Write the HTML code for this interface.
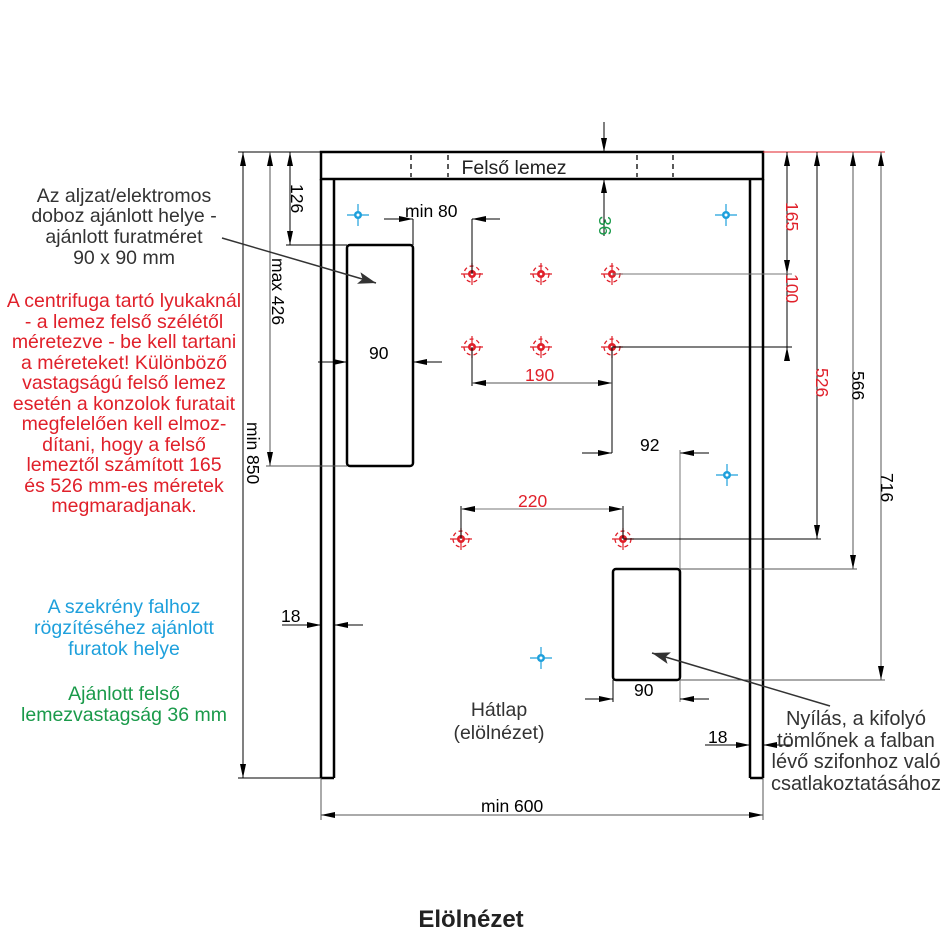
<!DOCTYPE html>
<html><head><meta charset="utf-8"><style>
html,body{margin:0;padding:0;background:#fff;}
svg{display:block;font-family:"Liberation Sans",sans-serif;}
</style></head><body>
<svg width="942" height="942" viewBox="0 0 942 942" xmlns="http://www.w3.org/2000/svg">
<defs>
<marker id="a" viewBox="0 0 14 6" refX="14" refY="3" markerWidth="14" markerHeight="6" markerUnits="userSpaceOnUse" orient="auto"><path d="M0,0L14,3L0,6z" fill="#000"/></marker>
<marker id="b" viewBox="0 0 14 6" refX="0" refY="3" markerWidth="14" markerHeight="6" markerUnits="userSpaceOnUse" orient="auto"><path d="M14,0L0,3L14,6z" fill="#000"/></marker>
<marker id="g" viewBox="0 0 18 12" refX="18" refY="6" markerWidth="18" markerHeight="12" markerUnits="userSpaceOnUse" orient="auto"><path d="M0,0L18,6L0,12L4,6z" fill="#333"/></marker>
<g id="rh"><circle r="8" fill="none" stroke="#e0202a" stroke-width="1.3" stroke-dasharray="4 3"/><line x1="-11" y1="0" x2="11" y2="0" stroke="#e0202a" stroke-width="1.2"/><line x1="0" y1="-11" x2="0" y2="11" stroke="#e0202a" stroke-width="1.2"/><circle r="4" fill="#e0202a"/><circle r="1.3" fill="#fff"/></g>
<g id="bh"><line x1="-11" y1="0" x2="11" y2="0" stroke="#1ea0dc" stroke-width="1.2"/><line x1="0" y1="-11" x2="0" y2="11" stroke="#1ea0dc" stroke-width="1.2"/><circle r="4" fill="#1ea0dc"/><circle r="1.5" fill="#fff"/></g>
</defs>

<g stroke="#000" stroke-width="2.5" fill="none">
<rect x="321" y="152" width="442" height="27"/>
<line x1="321" y1="179" x2="321" y2="778"/><line x1="334" y1="179" x2="334" y2="778"/>
<line x1="763" y1="179" x2="763" y2="778"/><line x1="750" y1="179" x2="750" y2="778"/>
<line x1="321" y1="778" x2="334" y2="778"/><line x1="750" y1="778" x2="763" y2="778"/>
<rect x="347" y="245" width="66" height="221" rx="3"/>
<rect x="613" y="569" width="67" height="111" rx="3"/>
</g>
<g stroke="#000" stroke-width="1.3" stroke-dasharray="5 4">
<line x1="411" y1="155" x2="411" y2="177"/><line x1="448" y1="155" x2="448" y2="177"/>
<line x1="637" y1="155" x2="637" y2="177"/><line x1="673" y1="155" x2="673" y2="177"/>
</g>
<text x="514" y="174" font-size="19.5" text-anchor="middle" fill="#222">Felső lemez</text>

<use href="#rh" x="472" y="274"/><use href="#rh" x="541" y="274"/><use href="#rh" x="612" y="274"/>
<use href="#rh" x="472" y="347"/><use href="#rh" x="541" y="347"/><use href="#rh" x="612" y="347"/>
<use href="#rh" x="461" y="539"/><use href="#rh" x="623" y="539"/>
<use href="#bh" x="358" y="215"/><use href="#bh" x="726" y="215"/><use href="#bh" x="727" y="475"/><use href="#bh" x="541" y="658"/>

<g stroke="#000" stroke-width="1" fill="none">
<line x1="238" y1="152" x2="321" y2="152"/>
<line x1="243" y1="152" x2="243" y2="778" marker-start="url(#b)" marker-end="url(#a)"/>
<line x1="238" y1="778" x2="321" y2="778"/>
<line x1="270" y1="152" x2="270" y2="466" stroke="#555" marker-start="url(#b)" marker-end="url(#a)"/>
<line x1="266" y1="466" x2="347" y2="466" stroke="#555"/>
<line x1="290" y1="152" x2="290" y2="245" marker-start="url(#b)" marker-end="url(#a)"/>
<line x1="286" y1="245" x2="347" y2="245"/>
<line x1="604" y1="122" x2="604" y2="152" marker-end="url(#a)"/>
<line x1="604" y1="236" x2="604" y2="179" marker-end="url(#a)"/>
<line x1="384" y1="219" x2="413" y2="219" marker-end="url(#a)"/>
<line x1="413" y1="219" x2="413" y2="245"/>
<line x1="500" y1="219" x2="472" y2="219" marker-end="url(#a)"/>
<line x1="472" y1="219" x2="472" y2="274"/>
<line x1="318" y1="362" x2="347" y2="362" marker-end="url(#a)"/>
<line x1="442" y1="362" x2="413" y2="362" marker-end="url(#a)"/>
<line x1="472" y1="347" x2="472" y2="386"/>
<line x1="612" y1="347" x2="612" y2="453"/>
<line x1="472" y1="383" x2="612" y2="383" marker-start="url(#b)" marker-end="url(#a)" stroke="#555"/>
<line x1="582" y1="453" x2="612" y2="453" marker-end="url(#a)"/>
<line x1="709" y1="453" x2="680" y2="453" marker-end="url(#a)"/>
<line x1="680" y1="450" x2="680" y2="569" stroke="#777"/>
<line x1="461" y1="506" x2="461" y2="539"/><line x1="623" y1="506" x2="623" y2="539"/>
<line x1="461" y1="509" x2="623" y2="509" stroke="#777" marker-start="url(#b)" marker-end="url(#a)"/>
<line x1="763" y1="152" x2="885" y2="152" stroke="#e0202a"/>
<line x1="787" y1="152" x2="787" y2="274" marker-start="url(#b)" marker-end="url(#a)"/>
<line x1="612" y1="274" x2="792" y2="274" stroke="#777"/>
<line x1="612" y1="347" x2="792" y2="347"/>
<line x1="787" y1="274" x2="787" y2="360"/>
<line x1="787" y1="360" x2="787" y2="347" marker-end="url(#a)"/>
<line x1="817" y1="152" x2="817" y2="539" marker-start="url(#b)" marker-end="url(#a)"/>
<line x1="623" y1="539" x2="821" y2="539"/>
<line x1="853" y1="152" x2="853" y2="569" stroke="#555" marker-start="url(#b)" marker-end="url(#a)"/>
<line x1="680" y1="569" x2="857" y2="569" stroke="#555"/>
<line x1="881" y1="152" x2="881" y2="680" stroke="#555" marker-start="url(#b)" marker-end="url(#a)"/>
<line x1="680" y1="680" x2="885" y2="680" stroke="#555"/>
<line x1="613" y1="680" x2="613" y2="702"/><line x1="680" y1="680" x2="680" y2="702" stroke="#777"/>
<line x1="585" y1="699" x2="613" y2="699" marker-end="url(#a)"/>
<line x1="709" y1="699" x2="680" y2="699" marker-end="url(#a)"/>
<line x1="282" y1="625" x2="321" y2="625" marker-end="url(#a)"/>
<line x1="363" y1="625" x2="334" y2="625" marker-end="url(#a)"/>
<line x1="705" y1="745" x2="750" y2="745" marker-end="url(#a)"/>
<line x1="792" y1="745" x2="763" y2="745" marker-end="url(#a)"/>
<line x1="321" y1="778" x2="321" y2="820" stroke="#555"/>
<line x1="763" y1="778" x2="763" y2="820" stroke="#555"/>
<line x1="321" y1="815" x2="763" y2="815" stroke="#555" marker-start="url(#b)" marker-end="url(#a)"/>
</g>

<line x1="222" y1="238" x2="376" y2="283" stroke="#333" stroke-width="1.5" marker-end="url(#g)"/>
<line x1="830" y1="706" x2="652" y2="653" stroke="#333" stroke-width="1.5" marker-end="url(#g)"/>

<g font-size="17.5" fill="#000">
<text transform="translate(247,422) rotate(90)">min 850</text>
<text transform="translate(272,258) rotate(90)">max 426</text>
<text transform="translate(291,184) rotate(90)">126</text>
<text transform="translate(599,216) rotate(90)" fill="#1a9a4a">36</text>
<text transform="translate(786,202) rotate(90)" fill="#e0202a">165</text>
<text transform="translate(786,274) rotate(90)" fill="#e0202a">100</text>
<text transform="translate(816,368) rotate(90)" fill="#e0202a">526</text>
<text transform="translate(852,371) rotate(90)">566</text>
<text transform="translate(881,473) rotate(90)">716</text>
<text x="405" y="217">min 80</text>
<text x="369" y="359">90</text>
<text x="525" y="381" fill="#e0202a">190</text>
<text x="640" y="451">92</text>
<text x="518" y="507" fill="#e0202a">220</text>
<text x="634" y="696">90</text>
<text x="281" y="622">18</text>
<text x="708" y="743">18</text>
<text x="481" y="812">min 600</text>
</g>

<g font-size="19.5" text-anchor="middle" fill="#333">
<text x="124" y="202">Az aljzat/elektromos</text>
<text x="124" y="222">doboz ajánlott helye -</text>
<text x="124" y="243">ajánlott furatméret</text>
<text x="124" y="264">90 x 90 mm</text>
</g>
<g font-size="19.5" text-anchor="middle" fill="#e0202a">
<text x="124" y="307">A centrifuga tartó lyukaknál</text>
<text x="124" y="328">- a lemez felső szélétől</text>
<text x="124" y="348">méretezve - be kell tartani</text>
<text x="124" y="369">a méreteket! Különböző</text>
<text x="124" y="389">vastagságú felső lemez</text>
<text x="124" y="410">esetén a konzolok furatait</text>
<text x="124" y="430">megfelelően kell elmoz-</text>
<text x="124" y="451">dítani,  hogy a felső</text>
<text x="124" y="471">lemeztől számított 165</text>
<text x="124" y="492">és 526 mm-es méretek</text>
<text x="124" y="512">megmaradjanak.</text>
</g>
<g font-size="19.5" text-anchor="middle" fill="#1ea0dc">
<text x="124" y="613">A szekrény falhoz</text>
<text x="124" y="634">rögzítéséhez ajánlott</text>
<text x="124" y="655">furatok helye</text>
</g>
<g font-size="19.5" text-anchor="middle" fill="#1a9a4a">
<text x="124" y="700">Ajánlott felső</text>
<text x="124" y="721">lemezvastagság 36 mm</text>
</g>
<g font-size="19.5" text-anchor="middle" fill="#333">
<text x="499" y="716">Hátlap</text>
<text x="499" y="739">(elölnézet)</text>
</g>
<g font-size="20" text-anchor="middle" fill="#333">
<text x="856" y="725">Nyílás, a kifolyó</text>
<text x="856" y="747">tömlőnek a falban</text>
<text x="856" y="768">lévő szifonhoz való</text>
<text x="856" y="790">csatlakoztatásához</text>
</g>
<text x="471" y="927" font-size="24" font-weight="bold" text-anchor="middle" fill="#222">Elölnézet</text>
</svg>
</body></html>
